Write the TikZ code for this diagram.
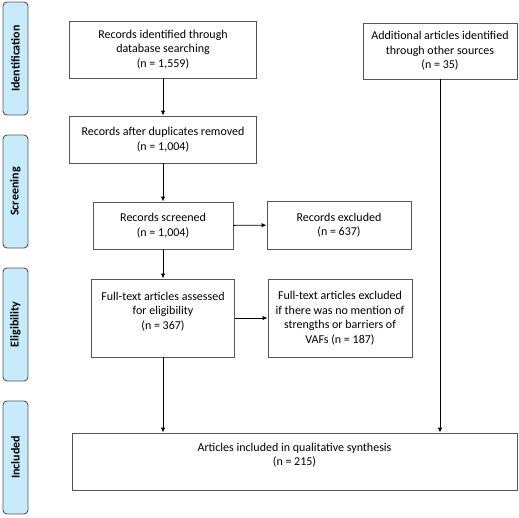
\documentclass[tikz,border=0pt]{standalone}
\usepackage{fontspec}
\setmainfont{Carlito}
\usetikzlibrary{arrows.meta}
\definecolor{phasefill}{HTML}{C8EBFB}
\definecolor{boxline}{HTML}{555555}
\tikzset{
  phase/.style={draw=boxline, fill=phasefill, rounded corners=4pt, line width=0.9pt, inner sep=0pt},
  phasetext/.style={rotate=90, font=\fontsize{12}{14}\selectfont\bfseries},
  flowbox/.style={draw=boxline, line width=0.9pt, align=center, inner sep=0pt, font=\fontsize{12}{14.5}\selectfont},
  arr/.style={-{Latex[length=5pt,width=4.5pt]}, line width=0.9pt}
}
\begin{document}
\begin{tikzpicture}[x=1pt,y=1pt]
\useasboundingbox (0,0) rectangle (519,-517);
% phase labels
\node[phase, minimum width=25pt, minimum height=113pt] (pI) at (15.5,-58.5) {};
\node[phasetext] (tI) at (pI.center) {Identification};
\node[phase, minimum width=25pt, minimum height=113pt] (pS) at (15.5,-191.5) {};
\node[phasetext] (tS) at (pS.center) {Screening};
\node[phase, minimum width=25pt, minimum height=113pt] (pE) at (15.5,-324.5) {};
\node[phasetext] (tE) at (pE.center) {Eligibility};
\node[phase, minimum width=25pt, minimum height=113pt] (pN) at (15.5,-457.5) {};
\node[phasetext] (tN) at (pN.center) {Included};
% flow boxes
\node[flowbox, minimum width=187pt, minimum height=57pt] (b1) at (163,-49.5)
  {Records identified through\\database searching\\(n = 1,559)};
\node[flowbox, minimum width=187pt, minimum height=47pt] (b2) at (163,-139.5)
  {Records after duplicates removed\\(n = 1,004)};
\node[flowbox, minimum width=140pt, minimum height=47pt] (b3) at (163,-225.5)
  {Records screened\\(n = 1,004)};
\node[flowbox, minimum width=143pt, minimum height=78pt] (b4) at (163,-318)
  {Full-text articles assessed\\for eligibility\\(n = 367)\\\mbox{}};
\node[flowbox, minimum width=154pt, minimum height=56pt] (add) at (440,-51)
  {Additional articles identified\\through other sources\\(n = 35)};
\node[flowbox, minimum width=144pt, minimum height=48pt] (ex1) at (339,-225)
  {Records excluded\\(n = 637)};
\node[flowbox, minimum width=144pt, minimum height=78pt] (ex2) at (340,-318)
  {Full-text articles excluded\\if there was no mention of\\strengths or barriers of\\VAFs (n = 187)};
\node[flowbox, minimum width=445pt, minimum height=57pt] (fin) at (294.5,-461.5)
  {Articles included in qualitative synthesis\\(n = 215)\\\mbox{}};
% connectors
\draw[arr] (b1) -- (b2);
\draw[arr] (b2) -- (b3);
\draw[arr] (b3) -- (b4);
\draw[arr] (b3) -- (ex1);
\draw[arr] (b4) -- (ex2);
\draw[arr] (b4.south) -- (b4.south |- fin.north);
\draw[arr] (add.south) -- (add.south |- fin.north);
\end{tikzpicture}
\end{document}
